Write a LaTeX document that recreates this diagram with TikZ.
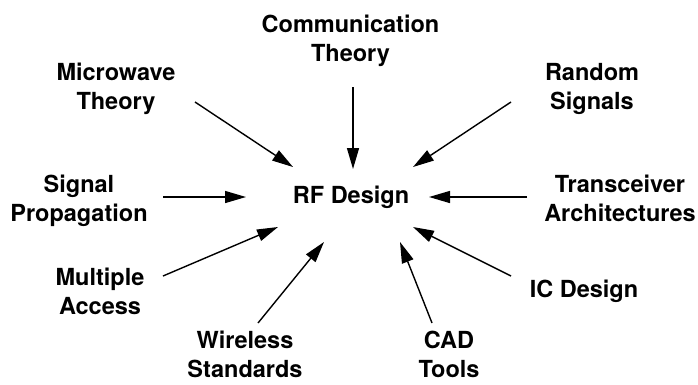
\documentclass[tikz,border=0pt]{standalone}
\usepackage{fontspec}
\setmainfont{TeX Gyre Heros}
\usetikzlibrary{arrows.meta}

\tikzset{
	topic/.style={align=center, inner sep=0pt, anchor=north,
		font=\bfseries\fontsize{23.5}{29}\selectfont},
	feed/.style={line width=1.4pt, -{Triangle[length=21pt,width=12pt]}}
}

\begin{document}
\begin{tikzpicture}[x=1pt,y=-1pt]
	\useasboundingbox (0,0) rectangle (698,384);
	
	% topics round the centre
	\node[topic] (comm) at (350.5,15) {Communication\\Theory};
	\node[topic] (micro) at (116,63) {Microwave\\Theory};
	\node[topic] (rand) at (592,63) {Random\\Signals};
	\node[topic] (sig) at (79,175) {Signal\\Propagation};
	\node[topic] (trx) at (620,175) {Transceiver\\Architectures};
	\node[topic] (mult) at (100,268) {Multiple\\Access};
	\node[topic] (ic) at (584,280) {IC Design};
	\node[topic] (wless) at (245,331) {Wireless\\Standards};
	\node[topic] (cad) at (449,331) {CAD\\Tools};
	
	\node[topic] (rf) at (351,186) {RF Design};
	
	% arrow ends
	\coordinate (comm-s) at (353,87);   \coordinate (comm-e) at (353,169);
	\coordinate (micro-s) at (195,102); \coordinate (micro-e) at (293,167);
	\coordinate (rand-s) at (511,102);  \coordinate (rand-e) at (413,167);
	\coordinate (sig-s) at (163,197);   \coordinate (sig-e) at (246,197);
	\coordinate (trx-s) at (527,197);   \coordinate (trx-e) at (429,197);
	\coordinate (mult-s) at (163,276);  \coordinate (mult-e) at (278,227);
	\coordinate (ic-s) at (511,276);    \coordinate (ic-e) at (413,227);
	\coordinate (wless-s) at (258,323); \coordinate (wless-e) at (324,242);
	\coordinate (cad-s) at (432,323);   \coordinate (cad-e) at (400,242);
	
	\begin{scope}[feed]
		\foreach \t in {comm,micro,rand,sig,trx,mult,ic,wless,cad}
			\draw (\t-s) -- (\t-e);
	\end{scope}
\end{tikzpicture}
\end{document}
